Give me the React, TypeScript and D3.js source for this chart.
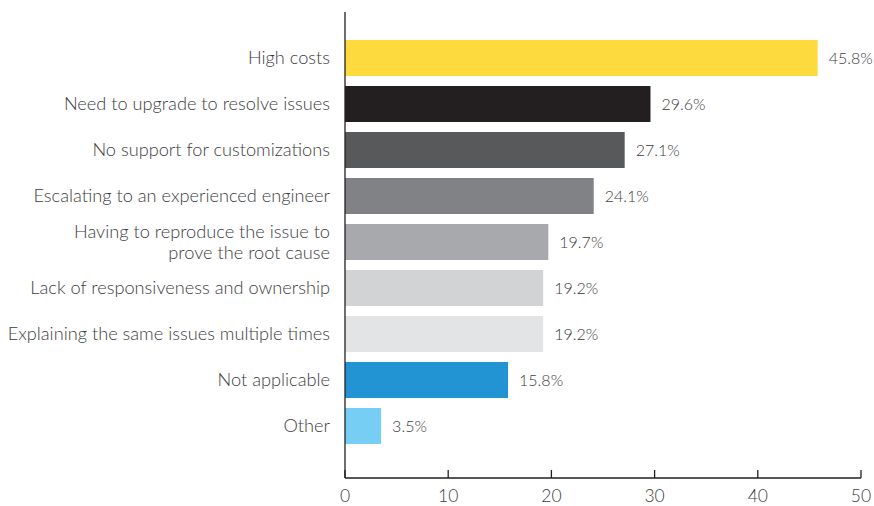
import React from "react";
import * as d3 from "d3";

const categories: string[][] = [
  ["High costs"],
  ["Need to upgrade to resolve issues"],
  ["No support for customizations"],
  ["Escalating to an experienced engineer"],
  ["Having to reproduce the issue to", "prove the root cause"],
  ["Lack of responsiveness and ownership"],
  ["Explaining the same issues multiple times"],
  ["Not applicable"],
  ["Other"],
];
const values: number[] = [45.8, 29.6, 27.1, 24.1, 19.7, 19.2, 19.2, 15.8, 3.5];
const colors: string[] = [
  "#FDDA3E", "#231F20", "#58595B", "#808285", "#A7A9AC",
  "#D1D3D4", "#E3E4E5", "#2294D4", "#77CEF4",
];
const ticks: number[] = [0, 10, 20, 30, 40, 50];

const W = 874, H = 506;
const x0 = 345, x1 = 861;
const axisY = 478;
const FONT = "Lato, 'Open Sans', sans-serif";
const TEXT = "#3C3C3E";

export default function App() {
  const x = d3.scaleLinear().domain([0, 50]).range([x0, x1]);
  const idx = categories.map((_, i) => String(i));
  const y = d3.scaleBand().domain(idx).range([35, 449]).paddingInner(10 / 46).paddingOuter(5 / 46);
  const bw = y.bandwidth();
  return (
    <svg width={W} height={H} style={{ position: "absolute", left: 0, top: 0, background: "#fff" }}>
      {values.map((v, i) => (
        <rect key={"b" + i} x={x(0)} y={y(String(i))} width={x(v) - x(0)} height={bw} fill={colors[i]} />
      ))}
      {values.map((v, i) => (
        <text key={"v" + i} x={x(v) + 11} y={(y(String(i)) as number) + bw / 2} dy="0.35em"
          fontFamily={FONT} fontWeight={300} fontSize={16} fill={TEXT}>
          {v.toFixed(1)}%
        </text>
      ))}
      {categories.map((lines, i) => {
        const cy = (y(String(i)) as number) + bw / 2;
        const lh = 21;
        return (
          <text key={"l" + i} textAnchor="end" fontFamily={FONT} fontWeight={300} fontSize={18.2} fill={TEXT}>
            {lines.map((ln, j) => (
              <tspan key={j} x={330} y={cy + (j - (lines.length - 1) / 2) * lh} dy="0.35em">{ln}</tspan>
            ))}
          </text>
        );
      })}
      <line x1={x0} x2={x0} y1={12} y2={axisY} stroke="#231F20" strokeWidth={1.3} />
      <line x1={x0} x2={x1} y1={axisY} y2={axisY} stroke="#231F20" strokeWidth={1.3} />
      {ticks.map((t) => (
        <g key={"t" + t}>
          <line x1={x(t)} x2={x(t)} y1={axisY} y2={axisY - 8} stroke="#231F20" strokeWidth={1.3} />
          <text x={x(t)} y={502} textAnchor="middle" fontFamily={FONT} fontWeight={300}
            fontSize={17.5} fill={TEXT}>{t}</text>
        </g>
      ))}
    </svg>
  );
}
